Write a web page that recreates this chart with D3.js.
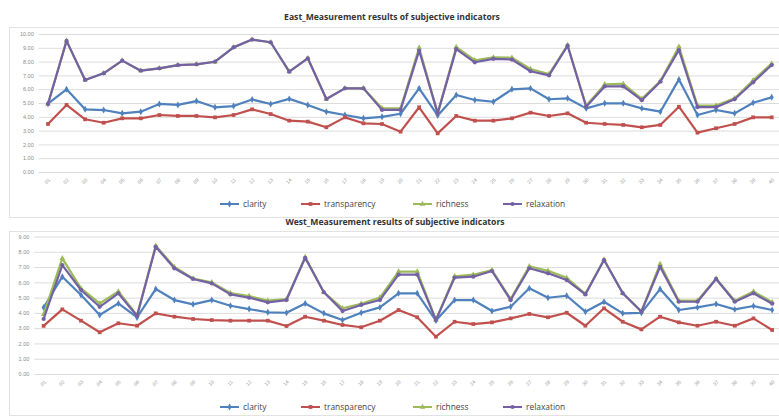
<!DOCTYPE html>
<html>
<head>
<meta charset="utf-8">
<script src="https://cdn.jsdelivr.net/npm/d3@7"></script>
<style>
  html, body { margin: 0; padding: 0; background: #fff; }
  svg { display: block; font-family: "Open Sans", "Liberation Sans", sans-serif; }
</style>
</head>
<body>
<svg id="chart" width="779" height="417"></svg>
<script>
// Sample point labels along the category axis
const sites = d3.range(1, 41).map(i => String(i).padStart(2, "0"));

const seriesNames = ["clarity", "transparency", "richness", "relaxation"];
const seriesColors = ["#4f81bd", "#c0504d", "#9bbb59", "#7460a4"];

// East region scores
const eastClarity = [4.95, 5.99, 4.54, 4.49, 4.25, 4.37, 4.93, 4.86, 5.14, 4.69, 4.78, 5.25, 4.93, 5.30, 4.86, 4.37, 4.13, 3.89, 4.00, 4.22,
  6.06, 4.10, 5.58, 5.22, 5.09, 5.99, 6.06, 5.27, 5.34, 4.61, 4.98, 4.98, 4.61, 4.37, 6.71, 4.13, 4.49, 4.25, 5.02, 5.41];
const eastTransparency = [3.48, 4.86, 3.82, 3.57, 3.89, 3.89, 4.13, 4.06, 4.06, 3.96, 4.13, 4.54, 4.20, 3.72, 3.65, 3.24, 3.96, 3.53, 3.48, 2.92,
  4.69, 2.80, 4.06, 3.72, 3.72, 3.89, 4.30, 4.06, 4.25, 3.57, 3.48, 3.41, 3.24, 3.41, 4.73, 2.85, 3.17, 3.48, 3.96, 3.96];
const eastRichness = [4.93, 9.50, 6.67, 7.15, 8.07, 7.34, 7.51, 7.75, 7.80, 7.99, 9.03, 9.60, 9.40, 7.27, 8.24, 5.29, 6.06, 6.06, 4.62, 4.62,
  9.00, 4.25, 9.05, 8.10, 8.30, 8.28, 7.46, 7.10, 9.20, 4.80, 6.35, 6.38, 5.30, 6.60, 9.08, 4.82, 4.82, 5.35, 6.65, 7.85];
const eastRelaxation = [4.93, 9.50, 6.67, 7.15, 8.07, 7.34, 7.51, 7.75, 7.80, 7.99, 9.03, 9.60, 9.40, 7.27, 8.24, 5.29, 6.06, 6.06, 4.50, 4.50,
  8.80, 4.25, 8.90, 7.95, 8.20, 8.15, 7.30, 7.00, 9.15, 4.73, 6.20, 6.20, 5.20, 6.54, 8.84, 4.70, 4.70, 5.27, 6.50, 7.75];
const eastTicks = d3.range(0, 11);

// West region scores
const westClarity = [4.35, 6.37, 5.17, 3.86, 4.62, 3.70, 5.56, 4.84, 4.56, 4.84, 4.47, 4.25, 4.04, 4.01, 4.62, 3.97, 3.53, 4.01, 4.36, 5.28,
  5.28, 3.50, 4.84, 4.84, 4.12, 4.40, 5.61, 4.99, 5.12, 4.08, 4.73, 3.97, 4.00, 5.56, 4.19, 4.36, 4.58, 4.23, 4.45, 4.19];
const westTransparency = [3.15, 4.23, 3.49, 2.73, 3.32, 3.16, 3.97, 3.75, 3.60, 3.53, 3.49, 3.49, 3.49, 3.14, 3.75, 3.49, 3.21, 3.06, 3.49, 4.19,
  3.71, 2.44, 3.42, 3.27, 3.38, 3.64, 3.93, 3.71, 4.01, 3.16, 4.30, 3.42, 2.92, 3.75, 3.38, 3.16, 3.42, 3.16, 3.64, 2.88];
const westRichness = [3.90, 7.57, 5.60, 4.62, 5.40, 3.85, 8.40, 7.00, 6.25, 6.00, 5.30, 5.10, 4.80, 4.90, 7.65, 5.35, 4.30, 4.60, 5.00, 6.70,
  6.70, 3.55, 6.40, 6.50, 6.80, 4.90, 7.05, 6.75, 6.30, 5.25, 7.50, 5.30, 4.10, 7.20, 4.80, 4.80, 6.25, 4.80, 5.40, 4.70];
const westRelaxation = [3.60, 7.13, 5.50, 4.40, 5.28, 3.80, 8.33, 6.92, 6.22, 5.93, 5.21, 4.99, 4.69, 4.84, 7.61, 5.35, 4.12, 4.52, 4.84, 6.50,
  6.50, 3.53, 6.31, 6.37, 6.74, 4.84, 6.92, 6.59, 6.15, 5.21, 7.46, 5.28, 4.08, 7.02, 4.73, 4.73, 6.22, 4.73, 5.28, 4.60];
const westTicks = d3.range(0, 10);

const svg = d3.select("#chart");
const symbols = [d3.symbolDiamond, d3.symbolSquare, d3.symbolTriangle, d3.symbolCircle];

function drawPanel(opts) {
  const g = svg.append("g");

  // outer frame of the panel
  g.append("rect")
    .attr("x", opts.box[0]).attr("y", opts.box[1])
    .attr("width", opts.box[2]).attr("height", opts.box[3])
    .attr("fill", "none").attr("stroke", "#e2e2e2").attr("stroke-width", 1);

  g.append("text")
    .attr("x", opts.titleX).attr("y", opts.titleY)
    .attr("text-anchor", "middle")
    .attr("font-size", 8.6).attr("font-weight", "bold").attr("fill", "#333")
    .text(opts.title);

  const x = d3.scalePoint().domain(sites).range([opts.left, opts.right]).padding(0.5);
  const y = d3.scaleLinear().domain([0, d3.max(opts.ticks)]).range([opts.bottom, opts.top]);

  // horizontal gridlines + value axis
  const yAxis = d3.axisLeft(y).tickValues(opts.ticks).tickFormat(d3.format(".2f"))
    .tickSize(-(opts.right - opts.left)).tickPadding(5);
  const ya = g.append("g").attr("transform", `translate(${opts.left},0)`).call(yAxis);
  ya.select(".domain").remove();
  ya.selectAll(".tick line").attr("stroke", "#dcdcdc");
  ya.selectAll(".tick text").attr("font-size", 5.5).attr("fill", "#8a8a8a");

  // category axis labels (rotated)
  const xAxis = d3.axisBottom(x).tickSize(0).tickPadding(0);
  const xa = g.append("g").attr("transform", `translate(0,${opts.bottom})`).call(xAxis);
  xa.select(".domain").remove();
  xa.selectAll(".tick text")
    .attr("font-size", 5).attr("fill", "#9a9a9a")
    .attr("text-anchor", "end")
    .attr("transform", "translate(1,7) rotate(-45)")
    .attr("dy", "0.35em");

  const line = d3.line().x((d, i) => x(sites[i])).y(d => y(d));

  opts.series.forEach((vals, k) => {
    g.append("path")
      .datum(vals)
      .attr("d", line)
      .attr("fill", "none")
      .attr("stroke", seriesColors[k])
      .attr("stroke-width", 2.2)
      .attr("stroke-linejoin", "round");
    g.append("g").selectAll("path")
      .data(vals)
      .join("path")
      .attr("transform", (d, i) => `translate(${x(sites[i])},${y(d)})`)
      .attr("d", d3.symbol().type(symbols[k]).size(14))
      .attr("fill", seriesColors[k]);
  });

  // legend
  const lg = g.append("g").attr("transform", `translate(0,${opts.legendY})`);
  opts.legendX.forEach((lx, k) => {
    lg.append("line").attr("x1", lx).attr("x2", lx + 19).attr("y1", 0).attr("y2", 0)
      .attr("stroke", seriesColors[k]).attr("stroke-width", 2);
    lg.append("path").attr("transform", `translate(${lx + 9.5},0)`)
      .attr("d", d3.symbol().type(symbols[k]).size(14)).attr("fill", seriesColors[k]);
    lg.append("text").attr("x", lx + 23).attr("y", 0).attr("dy", "0.35em")
      .attr("font-size", 8.4).attr("fill", "#444").text(seriesNames[k]);
  });
}

drawPanel({
  title: "East_Measurement results of subjective indicators",
  titleX: 392, titleY: 20,
  box: [9.5, 27.5, 790, 190],
  left: 38.7, right: 781, top: 34, bottom: 172,
  ticks: eastTicks,
  series: [eastClarity, eastTransparency, eastRichness, eastRelaxation],
  legendY: 204,
  legendX: [220, 301, 413, 503]
});

drawPanel({
  title: "West_Measurement results of subjective indicators",
  titleX: 395, titleY: 225,
  box: [9.5, 231.5, 790, 184],
  left: 34.3, right: 781.5, top: 236.5, bottom: 374,
  ticks: westTicks,
  series: [westClarity, westTransparency, westRichness, westRelaxation],
  legendY: 407,
  legendX: [220, 301, 413, 503]
});
</script>
</body>
</html>
